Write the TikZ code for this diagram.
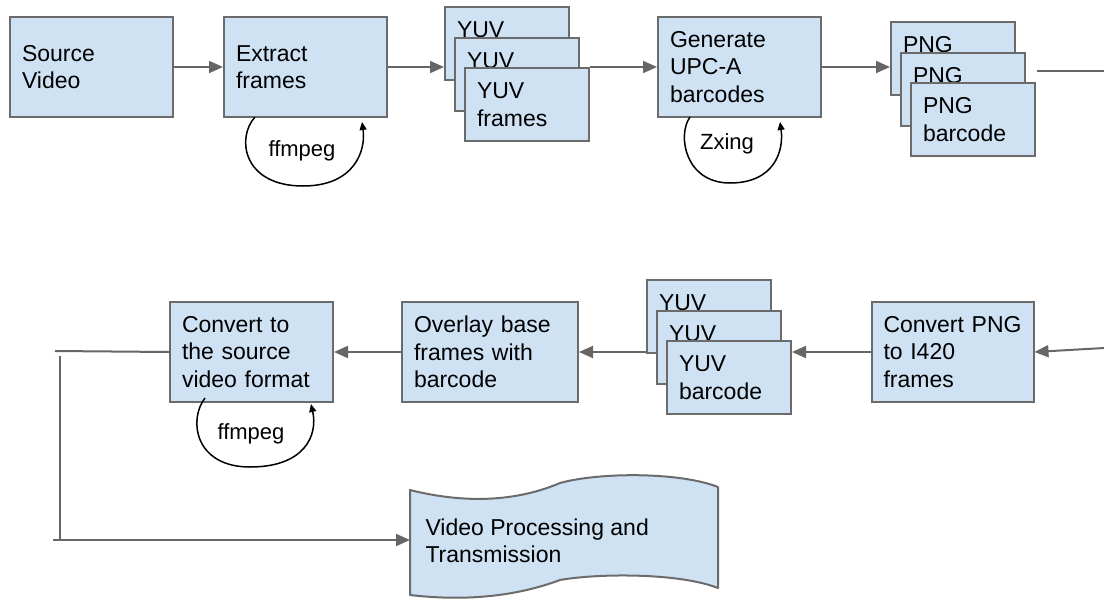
\documentclass[tikz,border=0pt]{standalone}
\usepackage{fontspec}
\setmainfont{Liberation Sans}
\usetikzlibrary{arrows.meta}
\definecolor{boxfill}{HTML}{CFE2F3}
\definecolor{edgegray}{HTML}{6B6B6B}
\definecolor{conngray}{HTML}{666666}
\begin{document}
\begin{tikzpicture}[x=1pt,y=-1pt,
  every node/.style={font=\fontsize{23}{27.5}\selectfont},
  proc/.style={draw=edgegray, line width=2pt, fill=boxfill, minimum height=100pt, inner xsep=12pt, align=left},
  stackbox/.style={draw=edgegray, line width=2pt, fill=boxfill, minimum width=124pt, minimum height=73pt, text width=100pt, inner xsep=12pt, align=left},
  conn/.style={draw=conngray, line width=2pt, -{Triangle[length=14pt,width=12pt]}},
  plainconn/.style={draw=conngray, line width=2pt},
  loopar/.style={draw=black, line width=1.5pt, -{Triangle[length=8pt,width=7pt]}},
  tapebox/.style={draw=edgegray, line width=2pt, fill=boxfill, line join=round},
  lbl/.style={font=\fontsize{22}{26}\selectfont}
]
\useasboundingbox (0,0) rectangle (1104,600);

% row 1
\node[proc, minimum width=163pt, text width=139pt] (src) at (91.5,67) {Source\\Video};
\node[proc, minimum width=163pt, text width=139pt] (ext) at (305.5,67) {Extract\\frames};
\node[stackbox] (y1) at (507,43.5) {YUV\\\phantom{frames}};
\node[stackbox] (y2) at (517,74) {YUV\\\phantom{frames}};
\node[stackbox] (y3) at (527,104.5) {YUV\\frames};
\node[proc, minimum width=163pt, text width=139pt] (gen) at (739.5,67) {Generate\\UPC-A\\barcodes};
\node[stackbox] (p1) at (953,58.5) {PNG\\\phantom{barcode}};
\node[stackbox] (p2) at (963,89) {PNG\\\phantom{barcode}};
\node[stackbox] (p3) at (973,119.5) {PNG\\barcode};

% row 2
\node[proc, minimum width=163pt, text width=139pt] (cvs) at (251.5,352) {Convert to\\the source\\video format};
\node[proc, minimum width=176pt, text width=152pt] (ovl) at (490,352) {Overlay base\\frames with\\barcode};
\node[stackbox] (q1) at (709,316.5) {YUV\\\phantom{barcode}};
\node[stackbox] (q2) at (719,347) {YUV\\\phantom{barcode}};
\node[stackbox] (q3) at (729,377.5) {YUV\\barcode};
\node[proc, minimum width=162pt, text width=138pt] (cpng) at (952.5,352) {\mbox{Convert PNG}\\to I420\\frames};

% tape
\path[tapebox] (410,490) .. controls (470,505) and (520,500) .. (560,483)
  .. controls (600,472) and (680,472) .. (718,487) -- (718,588)
  .. controls (680,573) and (600,573) .. (560,580)
  .. controls (520,595) and (470,602) .. (410,595) -- cycle;
\node[anchor=west, align=left] (vp) at (422,541) {Video Processing and\\Transmission};

% loop labels
\node[lbl] (ff1) at (302,151) {ffmpeg};
\node[lbl] (zx) at (727,144) {Zxing};
\node[lbl] (ff2) at (251,434) {ffmpeg};

% coordinates for free ends
\coordinate (r1) at (1037,71);
\coordinate (r2) at (1104,71);
\coordinate (r3) at (1104,348);
\coordinate (l1) at (55,351);
\coordinate (v1) at (60,356);
\coordinate (v2) at (60,540);
\coordinate (b1) at (53,540);
\coordinate (tapeL) at (410,540);
\coordinate (la) at (255,117);
\coordinate (lb) at (362,122);
\coordinate (za) at (690,117);
\coordinate (zb) at (780,122);
\coordinate (fa) at (205,398);
\coordinate (fb) at (311,404);

% connectors row 1
\draw[conn] (src.east) -- (ext.west);
\draw[conn] (ext.east) -- (ext.east -| y1.west);
\draw[conn] (y3.north east |- gen.west) -- (gen.west);
\draw[conn] (gen.east) -- (gen.east -| p1.west);
\draw[plainconn] (r1) -- (r2);

% connectors row 2
\draw[conn] (r3) -- (cpng.east);
\draw[conn] (cpng.west) -- (cpng.west -| q3.east);
\draw[conn] (ovl.east -| q1.west) -- (ovl.east);
\draw[conn] (ovl.west) -- (cvs.east);
\draw[plainconn] (cvs.west) -- (l1);
\draw[plainconn] (v1) -- (v2);
\draw[conn] (b1) -- (tapeL);

% loops
\draw[loopar] (la) .. controls (236,138) and (243,186) .. (303,186)
  .. controls (355,186) and (366,150) .. (lb);
\draw[loopar] (za) .. controls (677,135) and (685,183) .. (730,183)
  .. controls (775,183) and (784,150) .. (zb);
\draw[loopar] (fa) .. controls (188,420) and (195,467) .. (250,467)
  .. controls (305,467) and (318,435) .. (fb);
\end{tikzpicture}
\end{document}
